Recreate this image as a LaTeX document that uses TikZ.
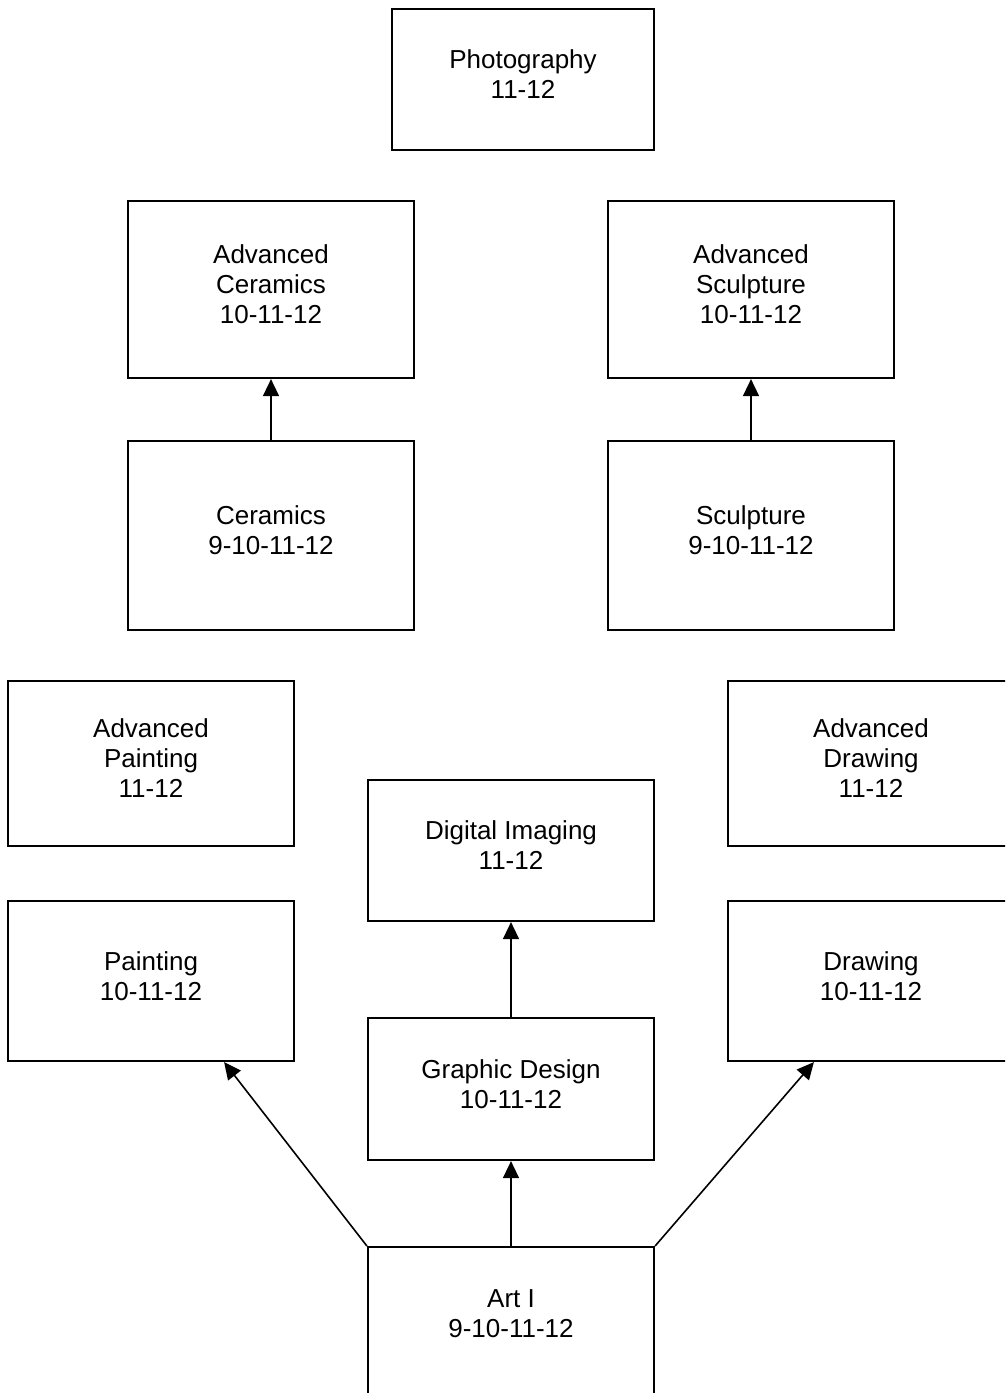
\documentclass[tikz,border=0pt]{standalone}
\usepackage{fontspec}
\setmainfont{Liberation Sans}
\usetikzlibrary{arrows.meta,calc}

\begin{document}
\begin{tikzpicture}[x=1pt, y=-1pt,
        course/.style={draw, rectangle, line width=2.2pt, align=center, inner sep=0pt,
            minimum width=286pt, text depth=10pt, font=\fontsize{26}{30}\selectfont},
        link/.style={-{Triangle[length=17pt, width=16pt]}, line width=1.6pt}]
    \useasboundingbox (0,0) rectangle (1005,1393);
    \clip (0,0) rectangle (1005,1393);

    % Nodes
    \node (photo) [course, minimum width=262pt, minimum height=141pt] at (523,79.5) {Photography\\11-12};
    \node (advcer) [course, minimum height=177pt] at (271,289.5) {Advanced\\Ceramics\\10-11-12};
    \node (advscu) [course, minimum height=177pt] at (751,289.5) {Advanced\\Sculpture\\10-11-12};
    \node (cer) [course, minimum height=189pt] at (271,535.5) {Ceramics\\9-10-11-12};
    \node (scu) [course, minimum height=189pt] at (751,535.5) {Sculpture\\9-10-11-12};
    \node (advpai) [course, minimum height=165pt] at (151,763.5) {Advanced\\Painting\\11-12};
    \node (advdra) [course, minimum height=165pt] at (871,763.5) {Advanced\\Drawing\\11-12};
    \node (digi) [course, minimum height=141pt] at (511,850.5) {Digital Imaging\\11-12};
    \node (pai) [course, minimum height=160pt] at (151,981) {Painting\\10-11-12};
    \node (dra) [course, minimum height=160pt] at (871,981) {Drawing\\10-11-12};
    \node (gra) [course, minimum height=142pt] at (511,1089) {Graphic Design\\10-11-12};
    \node (art) [course, minimum height=170pt, text depth=38pt, anchor=north] at (511,1246) {Art I\\9-10-11-12};
    % Prerequisite edges
    \draw [link] (cer) to (advcer);
    \draw [link] (scu) to (advscu);
    \draw [link] (gra) to (digi);
    \draw [link] (art) to (gra);
    \draw [link] (art.north west) to ($(pai.south east)+(-71,0)$);
    \draw [link] (art.north east) to ($(dra.south west)+(87,0)$);
\end{tikzpicture}
\end{document}
